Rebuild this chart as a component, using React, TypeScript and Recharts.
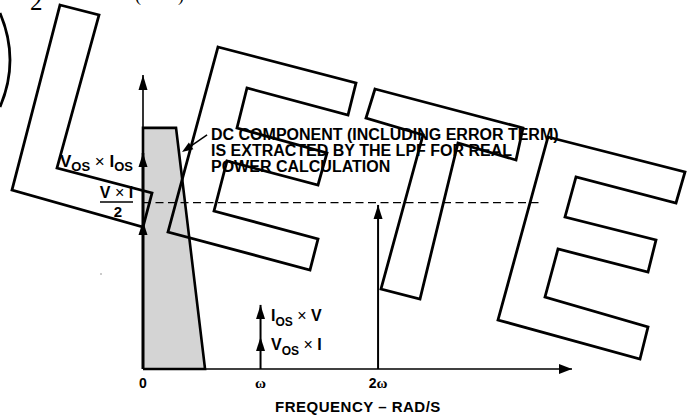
import React from 'react';
import {
  ComposedChart,
  Area,
  Line,
  XAxis,
  YAxis,
  ReferenceLine,
  ReferenceDot,
  Customized,
} from 'recharts';

// ---------- data ----------
const FREQ_TICKS = [0, 1, 2];
const FREQ_TICK_LABELS = ['0', 'ω', '2ω'];
const X_MAX = 3.65;
const Y_MAX = 100;

// shaded LPF region (frequency in multiples of ω, magnitude in %)
const LPF_FREQ = [0, 0, 0.281, 0.528, 0];
const LPF_MAG = [0, 82, 82, 0, 0];

// spectral lines: position and arrow-head heights
const DC_HEADS = [50.3, 73.5];
const OMEGA_HEADS = [10.9, 21.8];
const TWO_OMEGA_HEADS = [55.8];
const HALF_VI = 56.6;
const DASH_END = 3.38;

// pointer from the note to the LPF edge
const POINTER_FROM = { f: 0.545, a: 79.6 };
const POINTER_TO = { f: 0.332, a: 73.8 };

const DC_NOTE = [
  'DC COMPONENT (INCLUDING ERROR TERM)',
  'IS EXTRACTED BY THE LPF FOR REAL',
  'POWER CALCULATION',
];
const X_TITLE = 'FREQUENCY – RAD/S';

// ---------- decoration (OBSOLETE watermark outlines) ----------
const WATERMARK = [
  '60,5 99,15 57,168 152,193 143,227 12,190',
  '218,47 356,83 348,115 247,88 237,128 327,153 318,185 227,161 214,211 318,239 310,270 168,232',
  '375,89 523,128 516,160 458,143 420,299 381,289 423,135 366,118',
  '548,137 685,172 676,203 576,177 565,217 656,240 648,272 558,249 545,297 648,327 640,359 498,320',
];

const FONT = '"Liberation Sans", Arial, Helvetica, sans-serif';
const SERIF = '"Liberation Serif", "Times New Roman", serif';

const lpfData = LPF_FREQ.map((f, i) => ({ f, a: LPF_MAG[i] }));
const spike = (f: number, heads: number[]) => [
  { f, a: 0, head: false },
  ...heads.map((h) => ({ f, a: h, head: true })),
];
const dcSpike = spike(0, DC_HEADS);
const omegaSpike = spike(1, OMEGA_HEADS);
const twoOmegaSpike = spike(2, TWO_OMEGA_HEADS);
const pointerData = [
  { f: POINTER_FROM.f, a: POINTER_FROM.a },
  { f: POINTER_TO.f, a: POINTER_TO.a },
];

const ArrowDot = (props: any) => {
  const { cx, cy, payload, index } = props;
  if (!payload || !payload.head || cx == null || cy == null) return <g key={`d${index}`} />;
  return (
    <path
      key={`d${index}`}
      d={`M${cx},${cy} L${cx - 4.5},${cy + 14} L${cx + 4.5},${cy + 14} Z`}
      fill="#000"
      stroke="none"
    />
  );
};

const UpHead = (props: any) => {
  const { cx, cy } = props;
  return <path d={`M${cx},${cy} L${cx - 4.5},${cy + 15} L${cx + 4.5},${cy + 15} Z`} fill="#000" />;
};
const RightHead = (props: any) => {
  const { cx, cy } = props;
  return <path d={`M${cx},${cy} L${cx - 13},${cy - 5} L${cx - 13},${cy + 5} Z`} fill="#000" />;
};

const PointerLine = (props: any) => {
  const { points, stroke } = props;
  if (!points || points.length < 2) return null;
  const p1 = points[0];
  const p2 = points[1];
  const dx = p2.x - p1.x;
  const dy = p2.y - p1.y;
  const len = Math.sqrt(dx * dx + dy * dy) || 1;
  const ux = dx / len;
  const uy = dy / len;
  const hl = 11;
  const hw = 4;
  const bx = p2.x - ux * hl;
  const by = p2.y - uy * hl;
  return (
    <g>
      <line x1={p1.x} y1={p1.y} x2={bx} y2={by} stroke={stroke} strokeWidth={1.5} />
      <path
        d={`M${p2.x},${p2.y} L${bx - uy * hw},${by + ux * hw} L${bx + uy * hw},${by - ux * hw} Z`}
        fill="#000"
      />
    </g>
  );
};

const FreqTick = (props: any) => {
  const { x, y, payload } = props;
  const idx = FREQ_TICKS.indexOf(payload.value);
  const label = FREQ_TICK_LABELS[idx] ?? String(payload.value);
  const parts = label.split('ω');
  return (
    <text x={x} y={y + 19} textAnchor="middle" fontFamily={FONT} fontWeight="bold" fontSize={14} fill="#000">
      {parts[0]}
      {label.includes('ω') && (
        <tspan fontFamily={SERIF} fontSize={15}>
          ω
        </tspan>
      )}
    </text>
  );
};

const Annotations = () => (
  <g fontFamily={FONT} fill="#000" fontWeight="bold">
    {DC_NOTE.map((t, i) => (
      <text key={t} x={211} y={140 + i * 16} fontSize={16}>
        {t}
      </text>
    ))}
    <text x={133} y={167} textAnchor="end" fontSize={17}>
      V<tspan fontSize={13} dy={4}>OS</tspan>
      <tspan dy={-4} fontWeight="normal">
        {' × '}
      </tspan>
      I<tspan fontSize={13} dy={4}>OS</tspan>
    </text>
    <text x={116.5} y={198} textAnchor="middle" fontSize={16}>
      V<tspan fontWeight="normal">{' × '}</tspan>I
    </text>
    <line x1={100} x2={133} y1={202} y2={202} stroke="#000" strokeWidth={1.5} />
    <text x={118} y={217} textAnchor="middle" fontSize={15}>
      2
    </text>
    <text x={271} y={321} fontSize={16}>
      I<tspan fontSize={12} dy={5}>OS</tspan>
      <tspan dy={-5} fontWeight="normal">
        {' × '}
      </tspan>
      V
    </text>
    <text x={271} y={350} fontSize={16}>
      V<tspan fontSize={12} dy={5}>OS</tspan>
      <tspan dy={-5} fontWeight="normal">
        {' × '}
      </tspan>
      I
    </text>
    <text x={358} y={412} textAnchor="middle" fontSize={15} letterSpacing={0.5}>
      {X_TITLE}
    </text>
    <circle cx={101} cy={274} r={0.8} fill="#888" />
  </g>
);

export default function App() {
  return (
    <div style={{ position: 'absolute', left: 0, top: 0, width: 696, height: 417, background: '#fff' }}>
      <ComposedChart
        width={696}
        height={417}
        margin={{ top: 75, right: 124, bottom: 18, left: 143 }}
      >
        <XAxis
          dataKey="f"
          type="number"
          domain={[0, X_MAX]}
          ticks={FREQ_TICKS}
          tick={<FreqTick />}
          tickLine={false}
          tickSize={0}
          tickMargin={0}
          height={30}
          axisLine={{ stroke: '#000', strokeWidth: 1.5 }}
        />
        <YAxis dataKey="a" type="number" domain={[0, Y_MAX]} hide width={0} />
        <Area
          data={lpfData}
          dataKey="a"
          type="linear"
          fill="#d4d4d4"
          fillOpacity={1}
          stroke="#000"
          strokeWidth={2.6}
          dot={false}
          activeDot={false}
          isAnimationActive={false}
        />
        <ReferenceLine
          segment={[
            { x: 0, y: 0 },
            { x: 0, y: Y_MAX },
          ]}
          stroke="#000"
          strokeWidth={1.6}
          ifOverflow="visible"
        />
        <ReferenceLine
          segment={[
            { x: 0, y: HALF_VI },
            { x: DASH_END, y: HALF_VI },
          ]}
          stroke="#000"
          strokeWidth={1.3}
          strokeDasharray="8 4.5"
          ifOverflow="visible"
        />
        <Line
          data={dcSpike}
          dataKey="a"
          type="linear"
          stroke="#000"
          strokeWidth={2.6}
          dot={ArrowDot}
          activeDot={false}
          isAnimationActive={false}
        />
        <Line
          data={omegaSpike}
          dataKey="a"
          type="linear"
          stroke="#000"
          strokeWidth={2}
          dot={ArrowDot}
          activeDot={false}
          isAnimationActive={false}
        />
        <Line
          data={twoOmegaSpike}
          dataKey="a"
          type="linear"
          stroke="#000"
          strokeWidth={2}
          dot={ArrowDot}
          activeDot={false}
          isAnimationActive={false}
        />
        <Line
          data={pointerData}
          dataKey="a"
          type="linear"
          stroke="#000"
          shape={PointerLine}
          dot={false}
          activeDot={false}
          isAnimationActive={false}
        />
        <ReferenceDot x={0} y={Y_MAX} r={0} shape={UpHead} ifOverflow="visible" />
        <ReferenceDot x={X_MAX} y={0} r={0} shape={RightHead} ifOverflow="visible" />
        <Customized component={Annotations} />
      </ComposedChart>
      <svg
        width={696}
        height={417}
        style={{ position: 'absolute', left: 0, top: 0, pointerEvents: 'none' }}
      >
        {WATERMARK.map((p, i) => (
          <polygon key={i} points={p} fill="none" stroke="#000" strokeWidth={2.8} strokeLinejoin="miter" />
        ))}
        <path d="M0,13 Q20,60 0,107" fill="none" stroke="#000" strokeWidth={2.8} />
        <text x={30} y={10} fontFamily={SERIF} fontSize={25} fill="#000">
          2
        </text>
        <text x={135} y={1} fontFamily={SERIF} fontSize={18} fill="#000">
          (
        </text>
        <text x={178} y={1} fontFamily={SERIF} fontSize={18} fill="#000">
          )
        </text>
      </svg>
    </div>
  );
}
